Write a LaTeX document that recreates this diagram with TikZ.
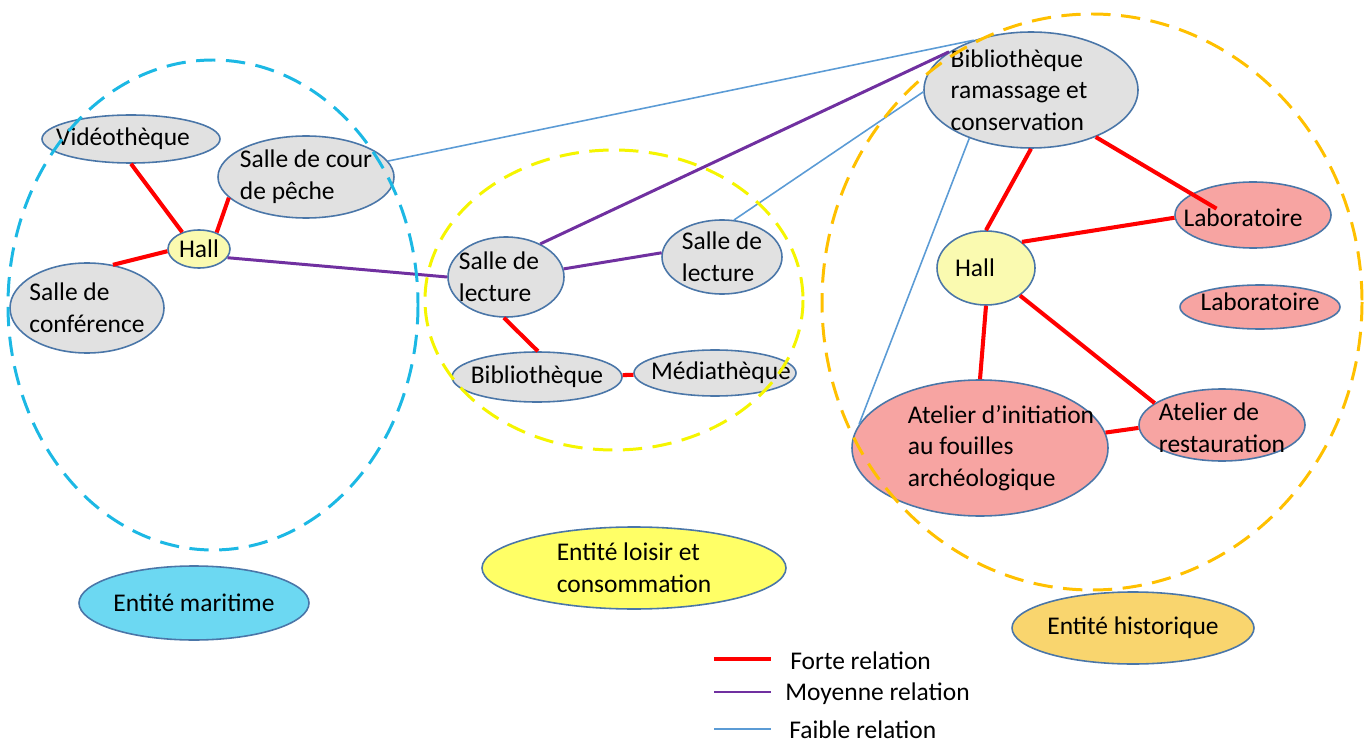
\documentclass[tikz,border=0pt]{standalone}
\usepackage{fontspec}
\setmainfont{Carlito}
\usepackage{tikz}
\usetikzlibrary{shapes.geometric}
\definecolor{rim}{HTML}{4A76A8}
\definecolor{greyfill}{HTML}{E1E1E1}
\definecolor{pinkfill}{HTML}{F7A4A2}
\definecolor{hallfill}{HTML}{FAFAB0}
\definecolor{seafill}{HTML}{6CD8F2}
\definecolor{leisurefill}{HTML}{FFFF66}
\definecolor{histfill}{HTML}{F9D56E}
\definecolor{seazone}{HTML}{1CB8E4}
\definecolor{leisurezone}{HTML}{F5F500}
\definecolor{histzone}{HTML}{FFC000}
\definecolor{midline}{HTML}{7030A0}
\definecolor{lowline}{HTML}{5B9BD5}
\tikzset{
  bub/.style={ellipse,draw=rim,line width=0.9pt,fill=greyfill,inner sep=0pt},
  rad/.style 2 args={minimum width=#1*0.4mm,minimum height=#2*0.4mm},
  txt/.style={font=\fontsize{14.5}{18}\selectfont,align=left,text=black},
  strong/.style={draw=red,line width=2.3pt},
  medium/.style={draw=midline,line width=1.7pt},
  weak/.style={draw=lowline,line width=0.9pt},
  zone/.style={line width=1.7pt,dash pattern=on 11pt off 6pt},
}

\begin{document}
\begin{tikzpicture}[x=0.2mm,y=-0.2mm]
  \useasboundingbox (0,0) rectangle (1364,746);
  % maritime entity
  \node[bub,rad={89}{24},label={[txt,xshift=-1.6mm]center:Vidéothèque}] (vid) at (131,139) {};
  \node[bub,rad={88}{41},label={[txt]center:{Salle de cour\\de pêche}}] (cour) at (306,177) {};
  \node[bub,fill=hallfill,rad={31}{19},label={[txt]center:Hall}] (hallL) at (199,249) {};
  \node[bub,rad={77}{45},label={[txt]center:{Salle de\\conférence}}] (conf) at (87,308) {};
  % leisure entity
  \node[bub,rad={58}{40},label={[txt,xshift=-1.4mm]center:{Salle de\\lecture}}] (lecL) at (506,277) {};
  \node[bub,rad={60}{37},label={[txt]center:{Salle de\\lecture}}] (lecR) at (722,257) {};
  \node[bub,rad={85}{25},label={[txt]center:Bibliothèque}] (bib) at (537,377) {};
  \node[bub,rad={81}{23},label={[txt,xshift=1.2mm]center:Médiathèque}] (med) at (715,373) {};
  % historic entity
  \node[bub,rad={107}{58},label={[txt,xshift=-2.4mm]center:{Bibliothèque\\ramassage et\\conservation}}] (bibr) at (1031,90) {};
  \node[bub,fill=pinkfill,rad={78}{33},label={[txt,xshift=-2mm,yshift=-0.6mm]center:Laboratoire}] (labA) at (1253,215) {};
  \node[bub,fill=hallfill,rad={49}{37},label={[txt,xshift=-2.2mm]center:Hall}] (hallR) at (986,268) {};
  \node[bub,fill=pinkfill,rad={80}{22},label={[txt,yshift=1mm]center:Laboratoire}] (labB) at (1260,307) {};
  \node[bub,fill=pinkfill,rad={128}{68},label={[txt,xshift=4.2mm]center:{Atelier d’initiation\\au fouilles\\archéologique}}] (ateI) at (980,448) {};
  \node[bub,fill=pinkfill,rad={83}{36},label={[txt,yshift=-0.6mm]center:{Atelier de\\restauration}}] (ateR) at (1222,425) {};
  % entity keys
  \node[bub,fill=seafill,rad={115}{37},label={[txt]center:Entité maritime}] (keySea) at (194,603) {};
  \node[bub,fill=leisurefill,rad={152}{41},label={[txt]center:{Entité loisir et\\consommation}}] (keyLeisure) at (634,568) {};
  \node[bub,fill=histfill,rad={121}{36},label={[txt]center:Entité historique}] (keyHist) at (1133,628) {};

  % strong links
  \draw[strong] (vid.270) -- (hallL.135);
  \draw[strong] (cour.195) -- (hallL.43);
  \draw[strong] (conf.59) -- (hallL.184);
  \draw[strong] (lecL.267) -- (bib.88);
  \draw[strong] (bib) -- (med);
  \draw[strong] (bibr.south) -- (hallR.north);
  \draw[strong,shorten >=-5.8mm] (bibr.324) -- (labA.161);
  \draw[strong] (hallR.36) -- (labA.182);
  \draw[strong] (hallR.south) -- (ateI.north);
  \draw[strong] (hallR.321) -- (ateR.162);
  \draw[strong] (ateI.7) -- (ateR.182);
  % medium links
  \draw[medium] (hallL.343) -- (lecL.180);
  \draw[medium] (lecL.44) -- (bibr.155);
  \draw[medium] (lecL.8) -- (lecR.176);
  % weak links
  \draw[weak] (cour.11) -- (bibr.139);
  \draw[weak] (lecR.72) -- (bibr.181);
  \draw[weak] (bibr.218) -- (ateI.169);

  % zones
  \draw[zone,seazone] (213,305) ellipse [x radius=205,y radius=245];
  \draw[zone,leisurezone] (614,300) ellipse [x radius=189,y radius=150];
  \draw[zone,histzone] (1092,302) ellipse [x radius=270,y radius=288];

  % legend
  \coordinate (fA) at (714,659); \coordinate (fB) at (771,659);
  \coordinate (mA) at (714,692); \coordinate (mB) at (771,692);
  \coordinate (wA) at (714,729); \coordinate (wB) at (771,729);
  \draw[strong] (fA) -- (fB);
  \draw[medium] (mA) -- (mB);
  \draw[weak] (wA) -- (wB);
  \node[txt,anchor=west,inner sep=0pt] (fTxt) at (790,661) {Forte relation};
  \node[txt,anchor=west,inner sep=0pt] (mTxt) at (785,694) {Moyenne relation};
  \node[txt,anchor=west,inner sep=0pt] (wTxt) at (789,730) {Faible relation};
\end{tikzpicture}
\end{document}
